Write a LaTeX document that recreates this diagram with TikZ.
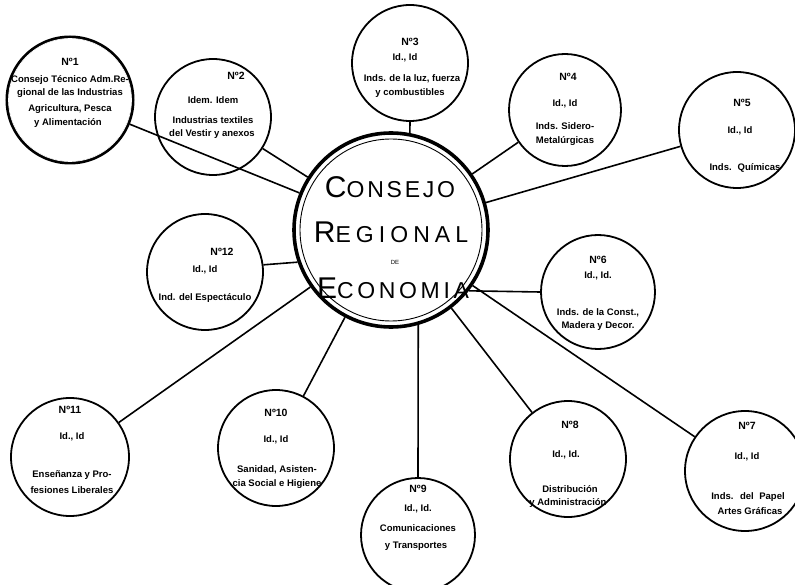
\documentclass[tikz,border=0pt]{standalone}
\usepackage{fontspec}
\setmainfont{Liberation Sans}
\begin{document}
\begin{tikzpicture}[x=1pt,y=-1pt,
  sat/.style={circle, draw=black, line width=1.8pt, inner sep=0pt, minimum size=#1},
  txt/.style={font=\bfseries\fontsize{9.5}{11}\selectfont, inner sep=0pt, align=center},
  num/.style={font=\bfseries\fontsize{10.5}{12}\selectfont, inner sep=0pt},
  link/.style={line width=1.6pt, draw=black},
  big/.style={font=\fontsize{23}{24}\selectfont, inner sep=0pt}]
\useasboundingbox (0,0) rectangle (795,585);
\fill[white] (0,0) rectangle (795,585);
\newcommand{\mylbl}[4]{\node[txt] (#1) at (#2,#3) {#4};}

% centre
\node[circle, draw=black, line width=3.6pt, minimum size=194pt, inner sep=0pt] (C) at (391,230) {};
\node[circle, draw=black, line width=0.9pt, minimum size=182pt, inner sep=0pt] (Ci) at (391,230) {};
\node[big] (t1) at (390,187) {\addfontfeatures{LetterSpace=12}{\fontsize{30}{30}\selectfont C}ONSEJO};
\node[big] (t2) at (391,232) {\addfontfeatures{LetterSpace=22}{\fontsize{30}{30}\selectfont R}EGIONAL};
\node[txt, font=\fontsize{6}{7}\selectfont] (t3) at (395,262) {DE};
\node[big] (t4) at (393,288) {\addfontfeatures{LetterSpace=16}{\fontsize{30}{30}\selectfont E}CONOMIA};

% satellites
\node[circle, draw=black, line width=3pt, minimum size=126pt, inner sep=0pt] (N1) at (70,100) {};
\node[circle, draw=white, line width=0.6pt, minimum size=123pt, inner sep=0pt] (N1i) at (70,100) {};
\node[sat=116pt] (N2) at (213,117) {};
\node[sat=116pt] (N3) at (410,63) {};
\node[sat=112pt] (N4) at (565,110) {};
\node[sat=116pt] (N5) at (737,130) {};
\node[sat=114pt] (N6) at (598,292) {};
\node[sat=120pt] (N7) at (745,471) {};
\node[sat=116pt] (N8) at (568,459) {};
\node[sat=114pt] (N9) at (418,535) {};
\node[sat=116pt] (N10) at (276,448) {};
\node[sat=118pt] (N11) at (70,457) {};
\node[sat=116pt] (N12) at (205,272) {};

% connectors
\draw[link] (N1) -- (C);
\draw[link] (N2) -- (C);
\draw[link] (N3.south) -- (C.79);
\draw[link] (N4) -- (C);
\draw[link] (N5) -- (C);
\draw[link] (C.-38) -- (N6.west);
\draw[link] (C) -- (N7);
\draw[link] (C) -- (N8);
\draw[link] (C.-74) -- (N9.north);
\draw[link] (C) -- (N10);
\draw[link] (N11) -- (C);
\draw[link] (N12.7) -- (C.199);

% texts
\node[num] (a1) at (70,62) {Nº1};
\mylbl{a2}{70}{80}{Consejo Técnico Adm.Re-}
\mylbl{a3}{70}{93}{gional de las Industrias}
\mylbl{a4}{70}{109}{Agricultura, Pesca}
\mylbl{a5}{68}{123}{y Alimentación}

\node[num] (b1) at (236,76) {Nº2};
\mylbl{b2}{213}{100}{Idem. Idem}
\mylbl{b3}{213}{120}{Industrias textiles}
\mylbl{b4}{212}{134}{del Vestir y anexos}

\node[num] (c1) at (410,42) {Nº3};
\mylbl{c2}{405}{58}{Id., Id}
\mylbl{c3}{412}{79}{Inds. de la luz, fuerza}
\mylbl{c4}{410}{93}{y combustibles}

\node[num] (d1) at (568,77) {Nº4};
\mylbl{d2}{565}{104}{Id., Id}
\mylbl{d3}{565}{126}{Inds. Sidero-}
\mylbl{d4}{565}{141}{Metalúrgicas}

\node[num] (e1) at (742,103) {Nº5};
\mylbl{e2}{740}{131}{Id., Id}
\mylbl{e3}{745}{168}{Inds.\hspace{6pt}Químicas}

\node[num] (f1) at (598,260) {Nº6};
\mylbl{f2}{598}{276}{Id., Id.}
\mylbl{f3}{598}{313}{Inds. de la Const.,}
\mylbl{f4}{598}{326}{Madera y Decor.}

\node[num] (g1) at (747,426) {Nº7};
\mylbl{g2}{747}{457}{Id., Id}
\mylbl{g3}{748}{497}{Inds.\hspace{3pt} del\hspace{3pt} Papel}
\mylbl{g4}{750}{511}{Artes Gráficas}

\node[num] (h1) at (570,425) {Nº8};
\mylbl{h2}{566}{455}{Id., Id.}
\mylbl{h3}{570}{489}{Distribución}
\mylbl{h4}{568}{503}{y Administración}

\node[num] (i1) at (418,489) {Nº9};
\mylbl{i2}{418}{509}{Id., Id.}
\mylbl{i3}{418}{528}{Comunicaciones}
\mylbl{i4}{416}{546}{y Transportes}

\node[num] (j1) at (276,413) {Nº10};
\mylbl{j2}{276}{440}{Id., Id}
\mylbl{j3}{277}{470}{Sanidad, Asisten-}
\mylbl{j4}{277}{484}{cia Social e Higiene}

\node[num] (k1) at (70,410) {Nº11};
\mylbl{k2}{72}{437}{Id., Id}
\mylbl{k3}{72}{475}{Enseñanza y Pro-}
\mylbl{k4}{72}{490}{fesiones Liberales}

\node[num] (l1) at (222,252) {Nº12};
\mylbl{l2}{205}{270}{Id., Id}
\mylbl{l3}{205}{298}{Ind. del Espectáculo}
\end{tikzpicture}
\end{document}
